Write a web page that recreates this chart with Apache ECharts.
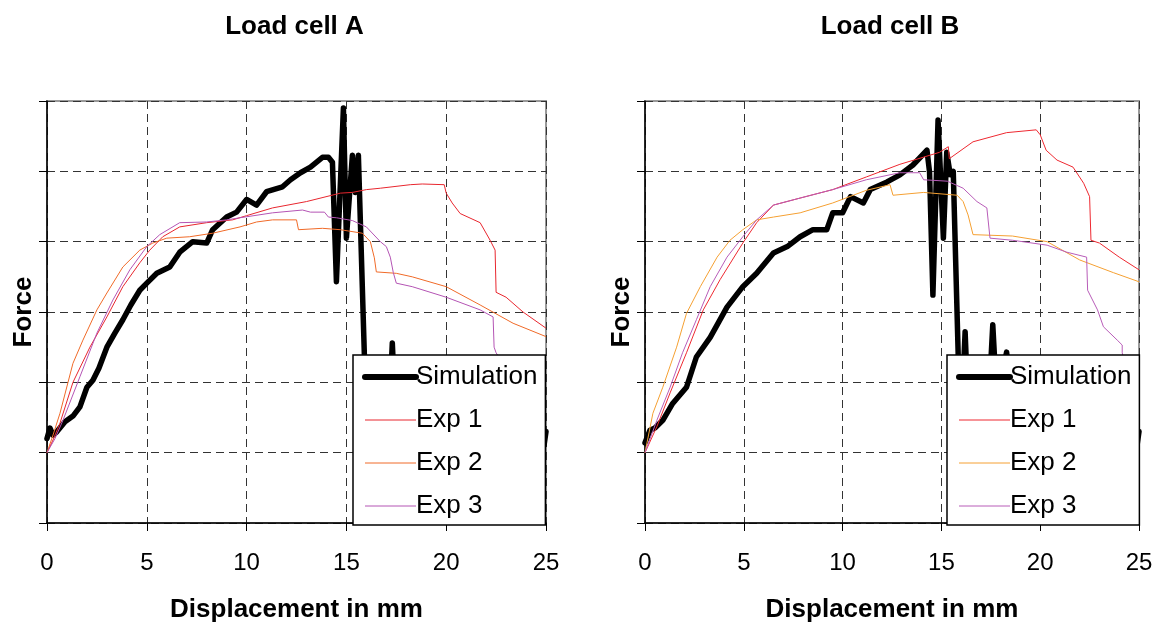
<!DOCTYPE html>
<html>
<head>
<meta charset="utf-8">
<script src="https://cdn.jsdelivr.net/npm/echarts@6/dist/echarts.min.js"></script>
<style>
  body{margin:0;background:#fff}
  #cellA{position:absolute;left:0;top:0;width:580px;height:622px}
  #cellB{position:absolute;left:580px;top:0;width:577px;height:622px}
</style>
</head>
<body>
<div id="cellA"></div>
<div id="cellB"></div>
<script>
// x = displacement in mm, y = force (no scale given, grid units)
const xTicks=[0,5,10,15,20,25]

// load cell A
const simA=[[0,1.2],[0.15,1.35],[0.3,1.25],[0.5,1.3],[0.9,1.44],[1.3,1.52],[1.65,1.65],[2.0,1.93],[2.3,2.03],[2.6,2.2],[3.0,2.5],[3.4,2.7],[3.8,2.89],[4.2,3.1],[4.65,3.31],[5.0,3.41],[5.5,3.55],[6.15,3.64],[6.65,3.85],[7.3,4.0],[8.0,3.98],[8.3,4.17],[9.0,4.35],[9.5,4.42],[10.0,4.6],[10.5,4.52],[11.0,4.71],[11.8,4.78],[12.2,4.88],[12.7,4.98],[13.2,5.06],[13.8,5.2],[14.1,5.2],[14.3,5.13],[14.5,3.43],[14.85,5.9],[15.0,4.05],[15.3,5.23],[15.45,4.7],[15.6,5.23],[15.9,2.39],[16.1,1.2],[16.6,1.1],[17.1,1.3],[17.3,2.56],[17.5,1.3],[18.5,1.1],[20,1.0],[22,1.1],[24,1.0],[24.9,1.1],[25,1.3]]
const exp1A=[[0,1.0],[0.3,1.18],[0.65,1.42],[1.3,2.0],[2.15,2.5],[3.0,2.93],[3.8,3.36],[4.65,3.7],[5.15,3.88],[5.8,4.07],[6.65,4.21],[8.0,4.27],[9.3,4.31],[10.0,4.37],[11.3,4.48],[13.0,4.57],[14.7,4.69],[15.3,4.7],[16.0,4.74],[16.7,4.76],[18.2,4.81],[18.8,4.82],[19.9,4.81],[20.0,4.69],[20.3,4.55],[20.7,4.4],[21.7,4.27],[22.2,4.02],[22.45,3.88],[22.5,3.28],[23.0,3.21],[23.85,3.0],[25,2.77]]
const exp2A=[[0,1.0],[0.3,1.25],[0.65,1.56],[1.3,2.27],[1.8,2.6],[2.5,3.03],[3.0,3.27],[3.8,3.64],[4.65,3.88],[5.3,3.98],[6.0,4.05],[7.15,4.07],[8.3,4.12],[9.67,4.21],[10.5,4.28],[11.3,4.31],[12.5,4.31],[12.6,4.17],[13.8,4.19],[14.7,4.17],[15.8,4.12],[16.2,4.0],[16.4,3.77],[16.5,3.57],[17.5,3.55],[18.3,3.5],[20.0,3.36],[21.7,3.1],[23.35,2.84],[25,2.65]]
const exp3A=[[0,1.0],[0.4,1.2],[0.8,1.46],[1.65,2.08],[2.5,2.7],[3.3,3.17],[4.15,3.6],[5.0,3.93],[5.65,4.1],[6.65,4.27],[8.0,4.28],[9.0,4.31],[9.67,4.34],[11.3,4.41],[12.8,4.45],[13.2,4.42],[13.9,4.42],[14.1,4.35],[14.5,4.34],[15.3,4.3],[16.0,4.21],[16.7,4.0],[17.0,3.93],[17.2,3.78],[17.35,3.56],[17.5,3.41],[18.3,3.36],[20.0,3.21],[21.7,3.03],[22.35,2.93],[22.4,2.5],[22.5,2.42],[23.0,2.2],[24.0,1.95],[25,1.8]]

// load cell B
const simB=[[0,1.14],[0.25,1.32],[0.5,1.35],[0.9,1.46],[1.4,1.7],[2.1,1.93],[2.6,2.36],[3.3,2.64],[4.15,3.07],[4.95,3.36],[5.65,3.55],[6.5,3.84],[7.2,3.93],[7.85,4.07],[8.5,4.17],[9.2,4.17],[9.5,4.41],[10.0,4.41],[10.4,4.64],[11.05,4.55],[11.4,4.74],[12.25,4.85],[12.9,4.95],[13.56,5.09],[14.27,5.3],[14.4,4.99],[14.57,3.24],[14.83,5.73],[15.1,4.05],[15.27,5.27],[15.45,4.95],[15.6,5.0],[15.85,2.39],[16.0,1.4],[16.2,2.72],[16.4,1.3],[17.3,1.2],[17.6,2.82],[17.85,1.5],[18.0,2.0],[18.3,2.43],[18.6,1.5],[20,1.2],[22,1.1],[24,1.0],[24.9,1.1],[25,1.3]]
const exp1B=[[0,1.0],[0.6,1.37],[1.27,1.85],[2.1,2.42],[2.95,3.03],[3.8,3.46],[4.95,3.98],[5.65,4.27],[6.5,4.52],[7.85,4.62],[9.5,4.74],[11.2,4.92],[12.9,5.1],[14.9,5.27],[15.35,5.35],[15.4,5.18],[16.6,5.42],[18.3,5.55],[19.8,5.59],[20.0,5.52],[20.3,5.3],[20.85,5.16],[21.66,5.06],[22.2,4.83],[22.5,4.64],[22.57,4.02],[23.0,3.98],[24.0,3.78],[25,3.6]]
const exp2B=[[0,1.0],[0.4,1.56],[0.9,1.93],[1.6,2.5],[2.1,2.98],[2.8,3.36],[3.65,3.78],[4.3,4.02],[4.95,4.17],[5.65,4.31],[6.5,4.35],[7.85,4.41],[9.5,4.55],[11.2,4.73],[12.4,4.81],[12.55,4.66],[14.1,4.7],[15.8,4.66],[16.1,4.57],[16.35,4.38],[16.6,4.1],[18.6,4.08],[20.35,4.0],[22.0,3.74],[23.7,3.56],[25,3.43]]
const exp3B=[[0,1.0],[0.6,1.46],[1.27,1.93],[1.9,2.42],[2.6,2.89],[3.3,3.36],[4.15,3.78],[4.95,4.07],[5.65,4.31],[6.5,4.52],[7.85,4.62],[9.5,4.74],[11.2,4.88],[12.9,4.98],[13.9,4.98],[14.1,4.88],[15.3,4.86],[16.1,4.76],[16.8,4.57],[17.3,4.48],[17.46,4.05],[18.6,4.02],[20.35,3.95],[21.35,3.85],[22.35,3.78],[22.4,3.31],[22.9,3.03],[23.2,2.79],[23.9,2.6],[24.15,2.53],[24.15,2.42],[24.5,2.0],[25,1.7]]

const font='"Liberation Sans", Arial, sans-serif'

function initCell(el,title,grid,legendLeft,data,colors){
  const myChart=echarts.init(document.querySelector(el))
  const names=['Simulation','Exp 1','Exp 2','Exp 3']
  const option={
    animation:false,
    title:{
      text:title,
      left:grid.left+grid.width/2-7,
      textAlign:'center',
      top:9,
      textStyle:{fontFamily:font,fontSize:26,fontWeight:'bold',color:'#000'}
    },
    grid:{left:grid.left,top:101,width:grid.width,height:422,show:true,borderColor:'#999',borderWidth:2,
      containLabel:false,outerBoundsMode:'none'},
    legend:{
      orient:'vertical',
      left:legendLeft,
      top:355,
      itemWidth:51,
      itemHeight:20,
      itemGap:17,
      padding:[9,8,6,9],
      backgroundColor:'#fff',
      borderColor:'#000',
      borderWidth:1.5,
      borderRadius:0,
      textStyle:{fontFamily:font,fontSize:26,color:'#000',padding:[0,0,0,-5]},
      data:names.map((n,i)=>({
        name:n,
        itemStyle:{opacity:0,borderWidth:0},
        lineStyle:{width:i===0?6:1,color:i===0?'#000':colors[i-1]}
      }))
    },
    xAxis:{
      type:'value',min:0,max:25,interval:5,
      name:'Displacement in mm',nameLocation:'middle',nameGap:74,
      nameTextStyle:{fontFamily:font,fontSize:26,fontWeight:'bold',color:'#000'},
      axisLine:{lineStyle:{color:'#000',width:1.5}},
      axisTick:{show:true,length:8,lineStyle:{color:'#000'}},
      axisLabel:{fontFamily:font,fontSize:24,color:'#000',margin:28,
        formatter:v=>xTicks.includes(v)?String(v):''},
      splitLine:{lineStyle:{color:'#333',type:[8,5],width:1}}
    },
    yAxis:{
      type:'value',min:0,max:6,interval:1,
      name:'Force',nameLocation:'middle',nameGap:10,
      nameTextStyle:{fontFamily:font,fontSize:26,fontWeight:'bold',color:'#000'},
      axisLine:{show:true,lineStyle:{color:'#000',width:1.5}},
      axisTick:{show:true,length:8,lineStyle:{color:'#000'}},
      axisLabel:{show:false},
      splitLine:{lineStyle:{color:'#333',type:[8,5],width:1}}
    },
    series:[
      {name:names[0],type:'line',data:data[0],symbol:'none',
        lineStyle:{color:'#000',width:5.5,join:'round',cap:'round'},itemStyle:{color:'#000'}},
      {name:names[1],type:'line',data:data[1],symbol:'none',
        lineStyle:{color:colors[0],width:1},itemStyle:{color:colors[0]}},
      {name:names[2],type:'line',data:data[2],symbol:'none',
        lineStyle:{color:colors[1],width:1},itemStyle:{color:colors[1]}},
      {name:names[3],type:'line',data:data[3],symbol:'none',
        lineStyle:{color:colors[2],width:1},itemStyle:{color:colors[2]}}
    ]
  }
  myChart.setOption(option)
}

initCell('#cellA','Load cell A',{left:47,width:499},353,[simA,exp1A,exp2A,exp3A],['#e8262e','#f06a28','#b454b4'])
initCell('#cellB','Load cell B',{left:65,width:494},367,[simB,exp1B,exp2B,exp3B],['#ee2830','#f5a032','#b85cb8'])
</script>
</body>
</html>
